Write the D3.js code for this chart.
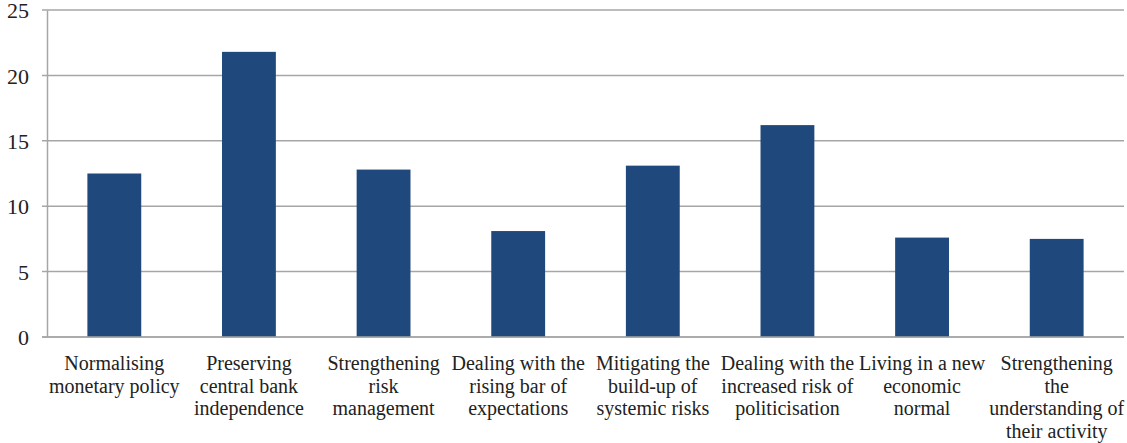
<!DOCTYPE html>
<html><head><meta charset="utf-8">
<script src="https://cdn.jsdelivr.net/npm/d3@7"></script>
</head><body style="margin:0;background:#fff">
<svg id="chart" width="1127" height="443" font-family="Liberation Serif"></svg>
<script>
const categories = [
  ["Normalising","monetary policy"],
  ["Preserving","central bank","independence"],
  ["Strengthening","risk","management"],
  ["Dealing with the","rising bar of","expectations"],
  ["Mitigating the","build-up of","systemic risks"],
  ["Dealing with the","increased risk of","politicisation"],
  ["Living in a new","economic","normal"],
  ["Strengthening","the","understanding of","their activity"]
];
const values = [12.5, 21.8, 12.8, 8.1, 13.1, 16.2, 7.6, 7.5];
const yTicks = [0, 5, 10, 15, 20, 25];

const FONT = "Liberation Serif";
const W = 1127, H = 443;
const m = {left: 47, right: 3, top: 10, bottom: 106};
const svg = d3.select("#chart");
const x = d3.scaleBand().domain(d3.range(categories.length)).range([m.left, W - m.right]).padding(0);
const y = d3.scaleLinear().domain([0, 25]).range([H - m.bottom, m.top]);

// gridlines
svg.append("g").selectAll("line").data(yTicks).join("line")
  .attr("x1", m.left - 5).attr("x2", W - m.right)
  .attr("y1", d => y(d)).attr("y2", d => y(d))
  .attr("stroke", "#a6a6a6").attr("stroke-width", 1.5);

// y axis
const gy = svg.append("g").attr("transform", `translate(${m.left},0)`)
  .call(d3.axisLeft(y).tickValues(yTicks).tickSize(0).tickPadding(18))
  .attr("font-family", FONT);
gy.select(".domain").attr("stroke", "#a6a6a6").attr("stroke-width", 1.5);
gy.selectAll("text").attr("font-family", FONT).attr("font-size", 22)
  .attr("fill", "#222").attr("dy", "0.35em");

// bars
const bw = x.bandwidth() * 0.4;
svg.append("g").selectAll("rect").data(values).join("rect")
  .attr("x", (d, i) => x(i) + x.bandwidth() / 2 - bw / 2)
  .attr("width", bw)
  .attr("y", d => y(d))
  .attr("height", d => y(0) - y(d))
  .attr("fill", "#1f497d");

// baseline
svg.append("line").attr("x1", m.left - 5).attr("x2", W - m.right)
  .attr("y1", y(0)).attr("y2", y(0)).attr("stroke", "#a6a6a6").attr("stroke-width", 1.5);

// category labels via bottom axis
const gx = svg.append("g").attr("transform", `translate(0,${y(0)})`)
  .call(d3.axisBottom(x).tickSize(0).tickFormat(""))
  .attr("font-family", FONT);
gx.select(".domain").remove();
gx.selectAll(".tick").each(function(i) {
  const t = d3.select(this).append("text").attr("text-anchor", "middle")
    .attr("font-family", FONT).attr("font-size", 20).attr("fill", "#222").attr("y", 33);
  categories[i].forEach((ln, k) => t.append("tspan").attr("x", 0).attr("y", 33 + k * 22.5).text(ln));
});
</script>
</body></html>
